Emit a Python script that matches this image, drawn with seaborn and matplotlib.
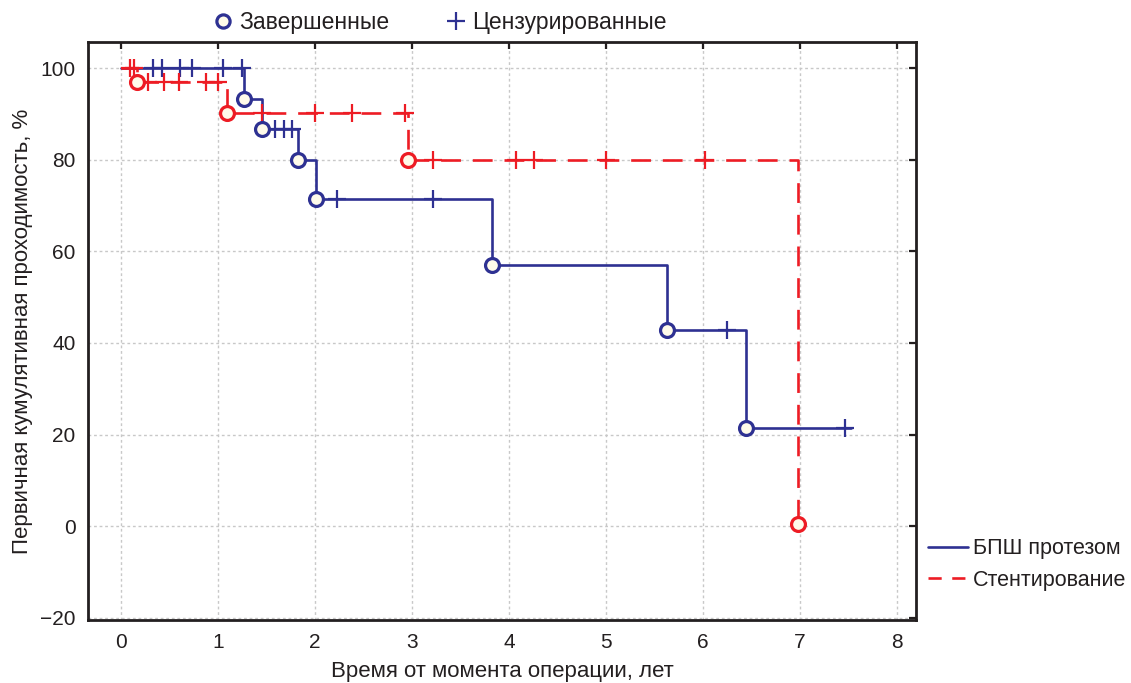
import matplotlib
matplotlib.use("Agg")
import matplotlib.pyplot as plt
from matplotlib.lines import Line2D
import seaborn as sns
import pandas as pd

# ---- data ----
bpsh_step_t = [0, 1.27, 1.45, 1.83, 2.01, 3.83, 5.63, 6.45, 7.53]
bpsh_step_s = [100, 93.3, 86.7, 80.0, 71.4, 57.1, 42.9, 21.4, 21.4]
bpsh_event_t = [1.27, 1.45, 1.83, 2.01, 3.83, 5.63, 6.45]
bpsh_event_s = [93.3, 86.7, 80.0, 71.4, 57.1, 42.9, 21.4]
bpsh_cens_t = [0.33, 0.42, 0.61, 0.73, 1.05, 1.25, 1.59, 1.68, 1.76, 2.23, 3.22, 6.25, 7.47]
bpsh_cens_s = [100, 100, 100, 100, 100, 100, 86.7, 86.7, 86.7, 71.4, 71.4, 42.9, 21.4]

stent_step_t = [0, 0.17, 1.09, 2.96, 6.98, 6.98]
stent_step_s = [100, 97.0, 90.3, 80.0, 0.4, 0.4]
stent_event_t = [0.17, 1.09, 2.96, 6.98]
stent_event_s = [97.0, 90.3, 80.0, 0.4]
stent_cens_t = [0.09, 0.13, 0.28, 0.44, 0.6, 0.88, 1.0, 1.45, 2.0, 2.38, 2.93, 3.22, 4.07, 4.26, 5.0, 6.02]
stent_cens_s = [100, 100, 97.0, 97.0, 97.0, 97.0, 97.0, 90.3, 90.3, 90.3, 90.3, 80.0, 80.0, 80.0, 80.0, 80.0]

x_ticks = [0, 1, 2, 3, 4, 5, 6, 7, 8]
y_ticks = [-20, 0, 20, 40, 60, 80, 100]

series_names = ["БПШ протезом", "Стентирование"]
marker_names = ["Завершенные", "Цензурированные"]
BLUE = "#2e3192"
RED = "#ed1c24"
FACE = "#fffbea"
DARK = "#231f20"

sns.set_style("white")
plt.rcParams["font.family"] = ["Liberation Sans", "DejaVu Sans"]

fig = plt.figure(figsize=(11.31, 6.83), dpi=100)
ax = fig.add_axes([0.0778, 0.0922, 0.7322, 0.8463])

blue_df = pd.DataFrame({"t": bpsh_step_t, "s": bpsh_step_s})
red_df = pd.DataFrame({"t": stent_step_t, "s": stent_step_s})

sns.lineplot(data=blue_df, x="t", y="s", ax=ax, color=BLUE, lw=1.9,
             drawstyle="steps-post", sort=False, estimator=None, zorder=3)
sns.lineplot(data=red_df, x="t", y="s", ax=ax, color=RED, lw=1.9,
             drawstyle="steps-post", sort=False, estimator=None, zorder=3)
ax.lines[-1].set_dashes((7.5, 4.5))

# censored
sns.scatterplot(x=bpsh_cens_t, y=bpsh_cens_s, ax=ax, marker="+", s=170,
                color=BLUE, linewidth=1.6, zorder=4)
sns.scatterplot(x=stent_cens_t, y=stent_cens_s, ax=ax, marker="+", s=170,
                color=RED, linewidth=1.6, zorder=4)
# events
sns.scatterplot(x=bpsh_event_t, y=bpsh_event_s, ax=ax, marker="o", s=100,
                facecolor=FACE, edgecolor=BLUE, linewidth=2.3, zorder=5)
sns.scatterplot(x=stent_event_t, y=stent_event_s, ax=ax, marker="o", s=100,
                facecolor=FACE, edgecolor=RED, linewidth=2.3, zorder=5)

ax.set_xlim(-0.34, 8.2)
ax.set_ylim(-20.5, 105.7)
ax.set_xticks(x_ticks)
ax.set_yticks(y_ticks)
ax.set_yticklabels([str(v).replace("-", "\u2212") for v in y_ticks])
ax.grid(True, color="#c8c8c8", linestyle=(0, (2, 2)), linewidth=1.0)
ax.set_axisbelow(True)
for sp in ax.spines.values():
    sp.set_visible(True)
    sp.set_color(DARK)
    sp.set_linewidth(2.0)
ax.tick_params(axis="both", direction="in", length=5, width=1.6, color=DARK,
               top=True, right=True, labelsize=15, labelcolor=DARK, pad=9)
ax.set_xlabel("Время от момента операции, лет", fontsize=16, color=DARK, labelpad=7)
ax.set_ylabel("Первичная кумулятивная проходимость, %", fontsize=16, color=DARK, labelpad=5)

# top legend (markers)
top_handles = [
    Line2D([], [], marker="o", linestyle="none", markersize=9.5, markerfacecolor=FACE,
           markeredgecolor=BLUE, markeredgewidth=2.3),
    Line2D([], [], marker="+", linestyle="none", markersize=13, color=BLUE,
           markeredgewidth=1.6),
]
fig.legend(top_handles, marker_names, loc="center",
           bbox_to_anchor=(0.388, 0.967), ncol=2, frameon=False, fontsize=16.5,
           handlelength=1.0, handletextpad=0.2, columnspacing=2.4, labelcolor=DARK,
           borderpad=0, borderaxespad=0)

# right legend (lines)
right_handles = [
    Line2D([], [], color=BLUE, lw=1.9),
    Line2D([], [], color=RED, lw=1.9, dashes=(5, 4)),
]
fig.legend(right_handles, series_names, loc="upper left",
           bbox_to_anchor=(0.8205, 0.212), frameon=False, fontsize=15.5,
           handlelength=1.85, handletextpad=0.25, labelspacing=0.48, labelcolor=DARK,
           borderpad=0, borderaxespad=0)

fig.savefig("out.png", dpi=100)
